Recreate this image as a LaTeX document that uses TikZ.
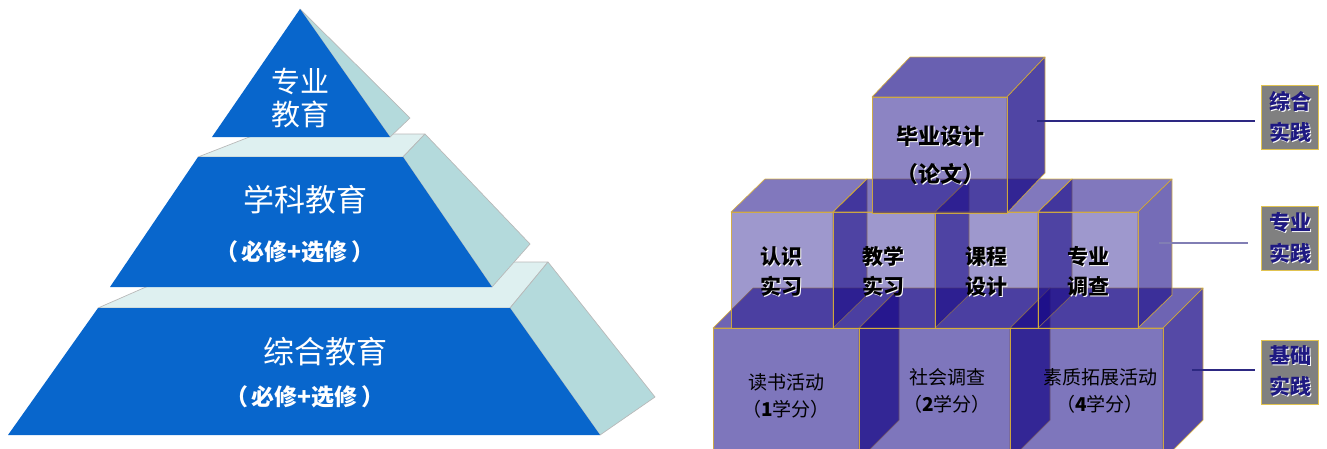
\documentclass[tikz,border=0pt]{standalone}
\usepackage{fontspec}
\newfontfamily\cjk{Noto Sans CJK SC}
\definecolor{pyblue}{RGB}{8,102,204}
\definecolor{pyledge}{RGB}{222,240,240}
\definecolor{pyside}{RGB}{180,218,220}
\definecolor{cubeviolet}{RGB}{25,10,135}
\definecolor{cubegold}{RGB}{215,175,60}
\definecolor{tagnavy}{RGB}{30,25,130}
\definecolor{taggold}{RGB}{225,195,80}
\definecolor{linknavy}{RGB}{45,40,130}
\newcommand\shtext[1]{\leavevmode\rlap{\color{white}\kern1pt\raisebox{-1pt}{#1}}#1}

\begin{document}
\begin{tikzpicture}[
  x=1pt, y=-1pt,
  font=\cjk,
  tier/.style={fill=pyblue},
  ledge/.style={fill=pyledge, draw=gray!55, line width=0.7pt, line join=round},
  flank/.style={fill=pyside, draw=gray!55, line width=0.7pt, line join=round},
  face/.style={fill=cubeviolet, fill opacity=#1, draw=cubegold, draw opacity=0.9,
               line width=0.7pt, line join=round},
  pylabel/.style={text=white, align=center, inner sep=0pt},
  cubelabel/.style={align=center, inner sep=0pt},
  tagbox/.style={fill=gray, draw=taggold, line width=1pt, minimum width=57pt,
                 minimum height=64pt, inner sep=0pt, align=center, text=tagnavy,
                 font=\cjk\bfseries\fontsize{21}{31}\selectfont},
  link/.style={draw=linknavy, line width=1.1pt}
]
\useasboundingbox (0,0) rectangle (1327,448);
\clip (0,0) rectangle (1327,448);

% ====================== PYRAMID ======================
% bottom tier
\draw[ledge] (98,308) -- (203,262) -- (548,262) -- (510,308) -- cycle;
\draw[flank] (510,308) -- (548,262) -- (655,397) -- (600,435) -- cycle;
\fill[tier] (98,308) -- (510,308) -- (600,435) -- (8,435) -- cycle;
% middle tier
\draw[ledge] (198,157) -- (257,134) -- (425,134) -- (403,157) -- cycle;
\draw[flank] (403,157) -- (425,134) -- (530,244) -- (492,287) -- cycle;
\fill[tier] (198,157) -- (403,157) -- (492,287) -- (110,287) -- cycle;
% top tier
\draw[flank] (300,9) -- (410,118) -- (390,137) -- cycle;
\fill[tier] (300,9) -- (390,137) -- (212,137) -- cycle;

\node[pylabel, font=\cjk\fontsize{29}{33}\selectfont] (zhuanye) at (300,98) {专业\\教育};
\node[pylabel, font=\cjk\fontsize{31}{36}\selectfont] (xueke) at (305,200) {学科教育};
\node[pylabel, font=\cjk\bfseries\fontsize{23}{26}\selectfont] (xuekenote) at (295,252) {（\,必修+选修\,）};
\node[pylabel, font=\cjk\fontsize{31}{36}\selectfont] (zonghe) at (325,352) {综合教育};
\node[pylabel, font=\cjk\bfseries\fontsize{23}{26}\selectfont] (zonghenote) at (305,397) {（\,必修+选修\,）};

% ====================== CUBES ======================
% bottom row
\foreach \xl/\xr in {713/859, 859/1010, 1010/1163}{
  \draw[face=0.63] (\xl,328) -- ++(40,-40) -- ({\xr+40},288) -- (\xr,328) -- cycle;
  \draw[face=0.74] (\xr,328) -- ({\xr+40},288) -- ({\xr+40},420) -- (\xr,460) -- cycle;
  \draw[face=0.56] (\xl,328) rectangle (\xr,460);
}
% middle row
\foreach \xl/\xr in {731/833, 833/935, 935/1038, 1038/1138}{
  \draw[face=0.55] (\xl,212) -- ++(34,-33) -- ({\xr+34},179) -- (\xr,212) -- cycle;
  \draw[face=0.6] (\xr,212) -- ({\xr+34},179) -- ({\xr+34},295) -- (\xr,328) -- cycle;
  \draw[face=0.42] (\xl,212) rectangle (\xr,328);
}
% top cube
\draw[face=0.65] (872,97) -- (910,57) -- (1045,57) -- (1007,97) -- cycle;
\draw[face=0.76] (1007,97) -- (1045,57) -- (1045,173) -- (1007,213) -- cycle;
\draw[face=0.5] (872,97) rectangle (1007,213);

\node[cubelabel, font=\cjk\bfseries\fontsize{22}{26}\selectfont] (biye) at (940,137) {\shtext{毕业设计}};
\node[cubelabel, font=\cjk\bfseries\fontsize{22}{26}\selectfont] (lunwen) at (940,175) {\shtext{（论文）}};

\node[cubelabel, font=\cjk\bfseries\fontsize{21}{30}\selectfont] (renshi) at (781,272) {\shtext{认识}\\\shtext{实习}};
\node[cubelabel, font=\cjk\bfseries\fontsize{21}{30}\selectfont] (jiaoxue) at (883,272) {\shtext{教学}\\\shtext{实习}};
\node[cubelabel, font=\cjk\bfseries\fontsize{21}{30}\selectfont] (kecheng) at (986,272) {\shtext{课程}\\\shtext{设计}};
\node[cubelabel, font=\cjk\bfseries\fontsize{21}{30}\selectfont] (diaocha) at (1088,272) {\shtext{专业}\\\shtext{调查}};

\node[cubelabel, font=\cjk\fontsize{19}{27}\selectfont] (dushu) at (786,396) {读书活动\\（\textbf{1}学分）};
\node[cubelabel, font=\cjk\fontsize{19}{27}\selectfont] (shehui) at (947,391) {社会调查\\（\textbf{2}学分）};
\node[cubelabel, font=\cjk\fontsize{19}{27}\selectfont] (suzhi) at (1100,391) {素质拓展活动\\（\textbf{4}学分）\hspace{1.3em}};

% ====================== TAGS ======================
\node[tagbox] (tagzonghe) at (1290,117) {\shtext{综合}\\\shtext{实践}};
\node[tagbox] (tagzhuanye) at (1290,238) {\shtext{专业}\\\shtext{实践}};
\node[tagbox] (tagjichu) at (1290,372) {\shtext{基础}\\\shtext{实践}};

\coordinate (biyeside) at (1037,121);
\coordinate (diaochaside) at (1159,243);
\coordinate (suzhiside) at (1192,370);
\draw[link, shorten >=6pt] (biyeside) -- (biyeside -| tagzonghe.west);
\draw[link, draw=linknavy!60, shorten >=13pt] (diaochaside) -- (diaochaside -| tagzhuanye.west);
\draw[link, shorten >=6pt] (suzhiside) -- (suzhiside -| tagjichu.west);

\end{tikzpicture}
\end{document}
